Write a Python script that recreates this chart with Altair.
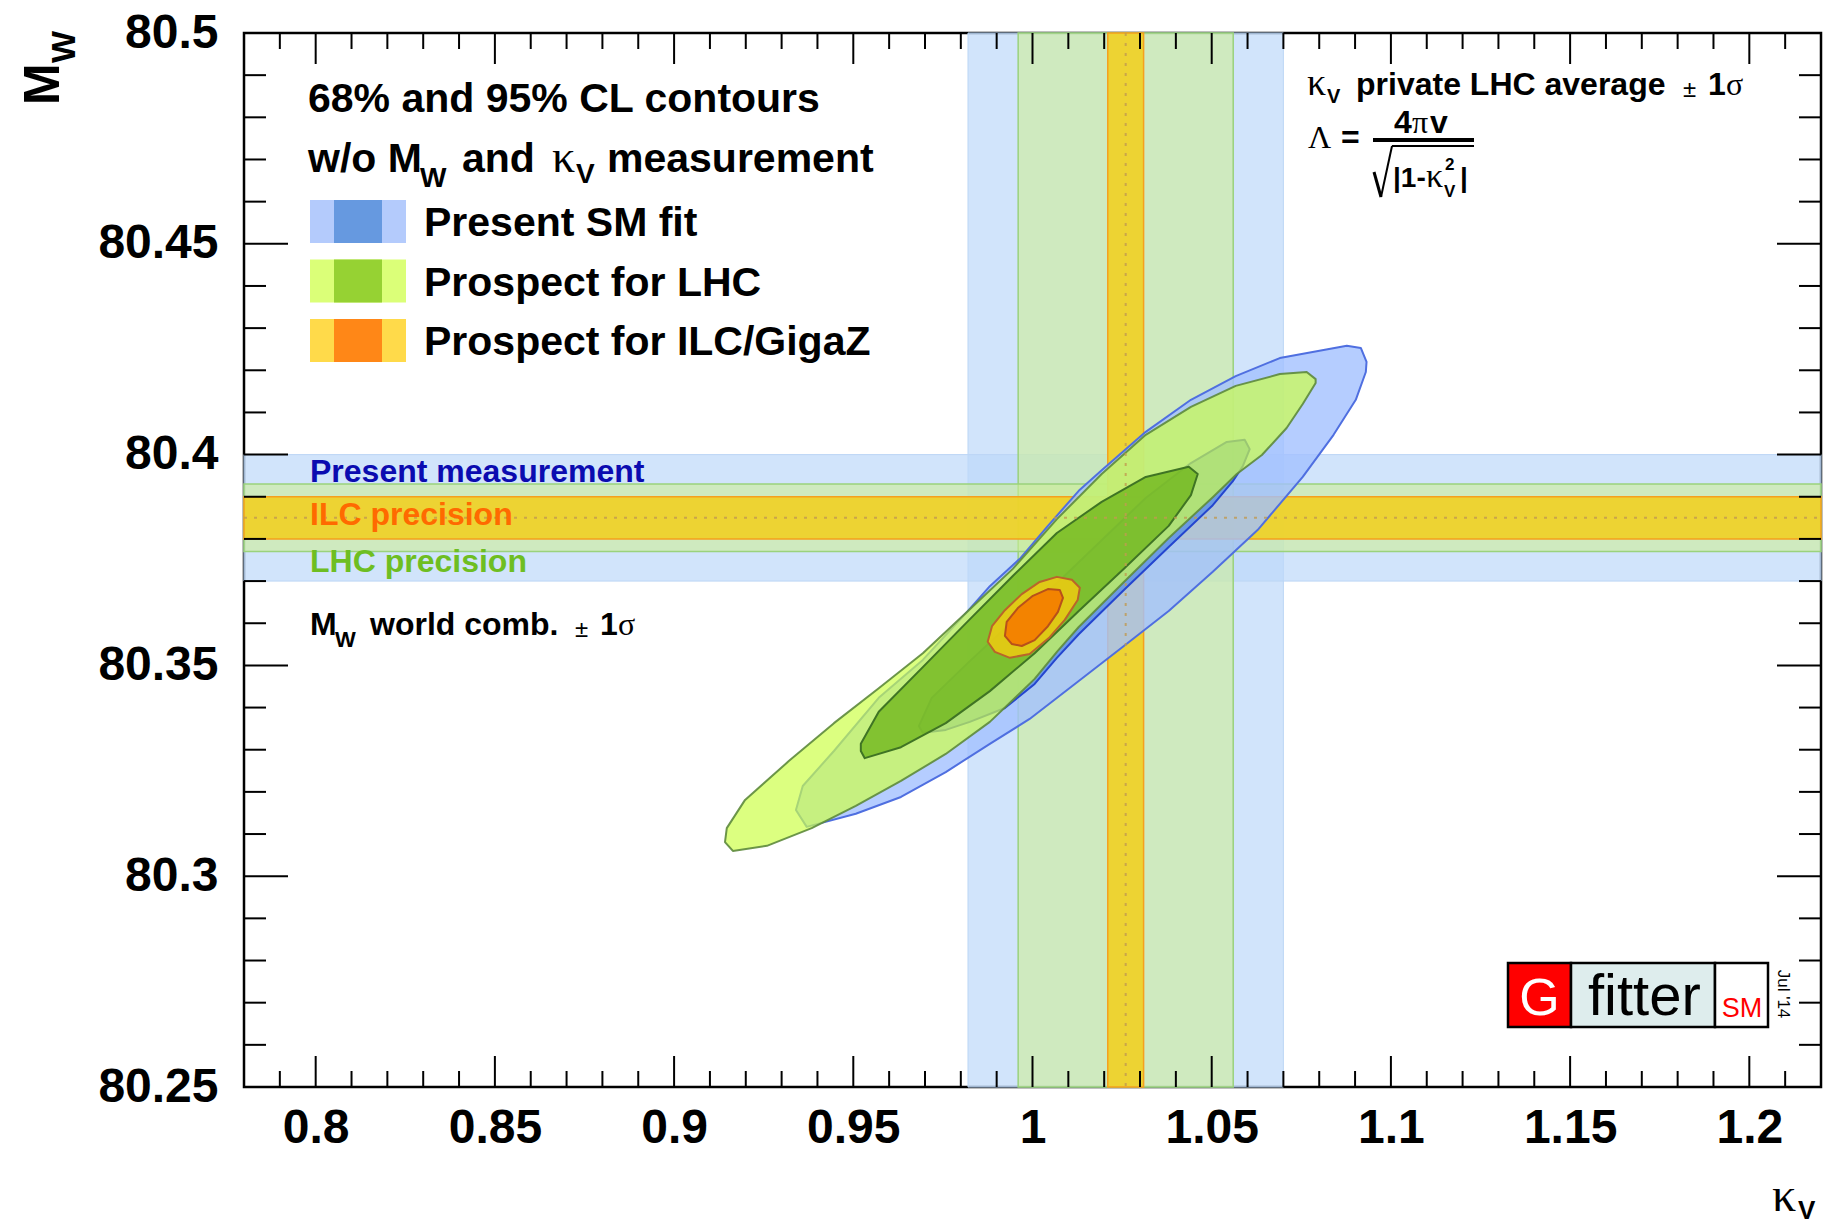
import altair as alt
import pandas as pd

# ---------------- axis ranges and tick labels ----------------
KAPPA_RANGE = [0.78, 1.22]
MW_RANGE = [80.25, 80.5]
KAPPA_TICK_LABELS = [0.8, 0.85, 0.9, 0.95, 1.0, 1.05, 1.1, 1.15, 1.2]
MW_TICK_LABELS = [80.25, 80.3, 80.35, 80.4, 80.45, 80.5]
MINOR_STEP = 0.01

# ---------------- measurements: central value and 1 sigma ----------------
SCENARIOS = ["present", "LHC", "ILC"]
KAPPA_CENTRAL = 1.026
KAPPA_ERRORS = [0.044, 0.030, 0.005]
MW_CENTRAL = 80.385
MW_ERRORS = [0.015, 0.008, 0.005]

# ---------------- 68% / 95% CL contours (kappa_V, M_W) ----------------
BLUE95_K = [1.0916, 1.0877, 1.0690, 1.0567, 1.0442, 1.0316, 1.0193, 1.0129, 1.0043,
            0.9967, 0.9881, 0.9820, 0.9694, 0.9571, 0.9446, 0.9359, 0.9340, 0.9370,
            0.9507, 0.9633, 0.9758, 0.9881, 0.9992, 1.0129, 1.0255, 1.0380, 1.0503,
            1.0628, 1.0754, 1.0840, 1.0902, 1.0930, 1.0932]
BLUE95_M = [80.4253, 80.4258, 80.4229, 80.4186, 80.4130, 80.4054, 80.3963, 80.3914, 80.3831,
            80.3755, 80.3688, 80.3629, 80.3513, 80.3423, 80.3297, 80.3214, 80.3157, 80.3117,
            80.3148, 80.3188, 80.3247, 80.3314, 80.3373, 80.3463, 80.3546, 80.3629, 80.3722,
            80.3821, 80.3947, 80.4047, 80.4130, 80.4196, 80.4220]

BLUE68_K = [0.9683, 0.9719, 0.9820, 0.9945, 1.0068, 1.0193, 1.0316, 1.0442, 1.0542, 1.0592,
            1.0606, 1.0587, 1.0559, 1.0503, 1.0380, 1.0255, 1.0129, 1.0068, 1.0006, 0.9923,
            0.9825, 0.9758, 0.9694]
BLUE68_M = [80.3356, 80.3423, 80.3506, 80.3605, 80.3695, 80.3797, 80.3897, 80.3980, 80.4030, 80.4035,
            80.4013, 80.3973, 80.3937, 80.3880, 80.3781, 80.3679, 80.3574, 80.3518, 80.3456, 80.3399,
            80.3366, 80.3347, 80.3340]

LHC95_K = [1.0765, 1.0690, 1.0567, 1.0442, 1.0316, 1.0193, 1.0068, 0.9945, 0.9820, 0.9694,
           0.9571, 0.9446, 0.9320, 0.9198, 0.9147, 0.9142, 0.9164, 0.9259, 0.9384, 0.9507,
           0.9633, 0.9758, 0.9881, 0.9956, 1.0006, 1.0068, 1.0129, 1.0255, 1.0380, 1.0503,
           1.0570, 1.0640, 1.0709, 1.0754, 1.0790, 1.0790]
LHC95_M = [80.4196, 80.4191, 80.4163, 80.4113, 80.4047, 80.3954, 80.3847, 80.3729, 80.3629, 80.3529,
           80.3446, 80.3363, 80.3273, 80.3181, 80.3114, 80.3081, 80.3060, 80.3072, 80.3114, 80.3167,
           80.3226, 80.3290, 80.3366, 80.3427, 80.3468, 80.3532, 80.3591, 80.3698, 80.3802, 80.3899,
           80.3954, 80.3999, 80.4063, 80.4120, 80.4170, 80.4179]

LHC68_K = [0.9521, 0.9532, 0.9633, 0.9758, 0.9881, 1.0006, 1.0129, 1.0255, 1.0380, 1.0442,
           1.0461, 1.0436, 1.0316, 1.0193, 1.0068, 0.9945, 0.9820, 0.9694, 0.9571, 0.9521]
LHC68_M = [80.3297, 80.3280, 80.3306, 80.3363, 80.3439, 80.3529, 80.3629, 80.3729, 80.3831, 80.3904,
           80.3954, 80.3971, 80.3947, 80.3888, 80.3814, 80.3712, 80.3605, 80.3496, 80.3390, 80.3314]

ILC95_K = [0.9875, 0.9895, 0.9937, 0.9992, 1.0048, 1.0090, 1.0126, 1.0132, 1.0110, 1.0068,
           1.0020, 0.9970, 0.9923, 0.9887]
ILC95_M = [80.3556, 80.3532, 80.3518, 80.3527, 80.3567, 80.3608, 80.3655, 80.3684, 80.3703, 80.3710,
           80.3698, 80.3669, 80.3631, 80.3593]

ILC68_K = [0.9923, 0.9942, 0.9970, 1.0006, 1.0043, 1.0071, 1.0085, 1.0076, 1.0043, 1.0001,
           0.9959, 0.9928]
ILC68_M = [80.3570, 80.3551, 80.3546, 80.3560, 80.3593, 80.3627, 80.3660, 80.3679, 80.3681, 80.3665,
           80.3636, 80.3603]

# ---------------- layout ----------------
W, H = 1577, 1054
SANS = "Liberation Sans"
SERIF = "Liberation Serif"

xs = alt.Scale(domain=KAPPA_RANGE, nice=False, zero=False)
ys = alt.Scale(domain=MW_RANGE, nice=False, zero=False)
x_axis = alt.Axis(values=KAPPA_TICK_LABELS, format="~g", title=None, ticks=False, tickSize=0,
                  domain=False, grid=False, labelPadding=17, labelFlush=False, labelOverlap=False,
                  labelFont=SANS, labelFontWeight="bold", labelFontSize=48, labelColor="black")
y_axis = alt.Axis(values=MW_TICK_LABELS, format="~g", title=None, ticks=False, tickSize=0,
                  domain=False, grid=False, labelPadding=26, labelFlush=False, labelOverlap=False,
                  labelFont=SANS, labelFontWeight="bold", labelFontSize=48, labelColor="black")

one = pd.DataFrame({"d": [0]})
layers = []

# ---------------- measurement bands ----------------
band_df = pd.DataFrame({
    "scenario": SCENARIOS,
    "k_lo": [KAPPA_CENTRAL - e for e in KAPPA_ERRORS],
    "k_hi": [KAPPA_CENTRAL + e for e in KAPPA_ERRORS],
    "m_lo": [MW_CENTRAL - e for e in MW_ERRORS],
    "m_hi": [MW_CENTRAL + e for e in MW_ERRORS],
})
band_style = {
    "present": dict(fill="#bdd9f9", fillOpacity=0.7, stroke="#bcd6f5", strokeWidth=1.0),
    "LHC": dict(fill="#cdef98", fillOpacity=0.6, stroke="#9bd27c", strokeWidth=1.5),
    "ILC": dict(fill="#f0d024", fillOpacity=0.9, stroke="#f5a01e", strokeWidth=1.5),
}
for sc in SCENARIOS:
    sub = band_df[band_df.scenario == sc]
    st = band_style[sc]
    layers.append(alt.Chart(sub).mark_rect(**st).encode(
        x=alt.X("k_lo:Q", scale=xs, axis=x_axis), x2="k_hi:Q",
        y=alt.value(0), y2=alt.value(H)))
    layers.append(alt.Chart(sub).mark_rect(**st).encode(
        y=alt.Y("m_lo:Q", scale=ys, axis=y_axis), y2="m_hi:Q",
        x=alt.value(0), x2=alt.value(W)))


# ---------------- contours ----------------
def contour(ks, ms, fill, fill_opacity, stroke, stroke_opacity=1.0, width=2.0):
    df = pd.DataFrame({"kappa": ks, "mw": ms, "i": list(range(len(ks)))})
    return alt.Chart(df).mark_line(
        interpolate="linear-closed", fill=fill, fillOpacity=fill_opacity,
        stroke=stroke, strokeOpacity=stroke_opacity, strokeWidth=width, strokeJoin="round"
    ).encode(
        x=alt.X("kappa:Q", scale=xs, axis=x_axis),
        y=alt.Y("mw:Q", scale=ys, axis=y_axis),
        order="i:Q")


layers += [
    contour(BLUE95_K, BLUE95_M, "#a3c0ff", 0.8, "#4f6fe0"),
    contour(BLUE68_K, BLUE68_M, "#6496e4", 0.9, "#2445cf"),
    contour(LHC95_K, LHC95_M, "#cdff4a", 0.7, "#5d8a3c", 0.9),
    contour(LHC68_K, LHC68_M, "#70b61d", 0.8, "#3f7424"),
    contour(ILC95_K, ILC95_M, "#ffcc0e", 0.75, "#b9652a"),
    contour(ILC68_K, ILC68_M, "#f48000", 0.97, "#b8501a"),
]

# ---------------- central values (dotted) ----------------
layers.append(alt.Chart(pd.DataFrame({"kappa": [KAPPA_CENTRAL]})).mark_rule(
    color="#c09a50", strokeWidth=2, strokeDash=[3, 7], opacity=0.8).encode(
    x=alt.X("kappa:Q", scale=xs, axis=x_axis), y=alt.value(0), y2=alt.value(H)))
layers.append(alt.Chart(pd.DataFrame({"mw": [MW_CENTRAL]})).mark_rule(
    color="#c09a50", strokeWidth=2, strokeDash=[3, 7], opacity=0.8).encode(
    y=alt.Y("mw:Q", scale=ys, axis=y_axis), x=alt.value(0), x2=alt.value(W)))

# ---------------- inward ticks on all four sides ----------------
k_minor = [round(KAPPA_RANGE[0] + MINOR_STEP * i, 2) for i in range(45)]
k_minor = [v for v in k_minor if v not in KAPPA_TICK_LABELS]
m_minor = [round(MW_RANGE[0] + MINOR_STEP * i, 2) for i in range(26)]
m_minor = [v for v in m_minor if v not in MW_TICK_LABELS]

for vals, length in [(KAPPA_TICK_LABELS, 31), (k_minor, 16)]:
    df = pd.DataFrame({"kappa": vals})
    layers.append(alt.Chart(df).mark_rule(color="black", strokeWidth=2).encode(
        x=alt.X("kappa:Q", scale=xs, axis=x_axis), y=alt.value(H), y2=alt.value(H - length)))
    layers.append(alt.Chart(df).mark_rule(color="black", strokeWidth=2).encode(
        x=alt.X("kappa:Q", scale=xs, axis=x_axis), y=alt.value(0), y2=alt.value(length)))
for vals, length in [(MW_TICK_LABELS, 44), (m_minor, 22)]:
    df = pd.DataFrame({"mw": vals})
    layers.append(alt.Chart(df).mark_rule(color="black", strokeWidth=2).encode(
        y=alt.Y("mw:Q", scale=ys, axis=y_axis), x=alt.value(0), x2=alt.value(length)))
    layers.append(alt.Chart(df).mark_rule(color="black", strokeWidth=2).encode(
        y=alt.Y("mw:Q", scale=ys, axis=y_axis), x=alt.value(W), x2=alt.value(W - length)))


# ---------------- text helpers ----------------
def txt(text, x, y, size, font=SANS, weight="bold", color="black", align="left",
        baseline="alphabetic", angle=0):
    return alt.Chart(one).mark_text(
        text=text, font=font, fontSize=size, fontWeight=weight, color=color,
        align=align, baseline=baseline, angle=angle
    ).encode(x=alt.value(x), y=alt.value(y))


def box(x1, y1, x2, y2, fill, stroke=None, sw=0):
    kw = dict(fill=fill)
    if stroke:
        kw.update(stroke=stroke, strokeWidth=sw)
    return alt.Chart(one).mark_rect(**kw).encode(
        x=alt.value(x1), x2=alt.value(x2), y=alt.value(y1), y2=alt.value(y2))


def seg(x1, y1, x2, y2, width):
    return alt.Chart(one).mark_rule(color="black", strokeWidth=width).encode(
        x=alt.value(x1), y=alt.value(y1), x2=alt.value(x2), y2=alt.value(y2))


# axis titles
layers += [
    txt("M", -185, 72, 50, angle=270),
    txt("W", -169, 30, 34, angle=270),
    txt("κ", 1528, 1178, 48, font=SERIF, weight="normal"),
    txt("V", 1554, 1186, 26),
]

# legend block
layers += [
    txt("68% and 95% CL contours", 64, 79, 41),
    txt("w/o M", 64, 139, 41),
    txt("W", 176, 154, 28),
    txt("and", 218, 139, 41),
    txt("κ", 308, 139, 46, font=SERIF, weight="normal"),
    txt("V", 332, 150, 28),
    txt("measurement", 363, 139, 41),
]
LEGEND_ROWS = [
    ("Present SM fit", "#b4cbfc", "#6699e0"),
    ("Prospect for LHC", "#dbff78", "#96d233"),
    ("Prospect for ILC/GigaZ", "#ffda4a", "#ff8717"),
]
for n, (name, light, dark) in enumerate(LEGEND_ROWS):
    top = 167 + n * 59.5
    layers += [
        box(66, top, 162, top + 43, light),
        box(90, top, 138, top + 43, dark),
        txt(name, 180, top + 36, 41),
    ]

# kappa_V annotation with the scale formula
layers += [
    txt("κ", 1063, 62, 38, font=SERIF, weight="normal"),
    txt("V", 1083, 70, 20),
    txt("private LHC average", 1112, 62, 32),
    txt("±", 1439, 64, 24, weight="normal"),
    txt("1", 1464, 62, 32),
    txt("σ", 1482, 62, 32, font=SERIF, weight="normal"),
    txt("Λ", 1064, 115, 32, font=SERIF, weight="normal"),
    txt("=", 1097, 115, 32),
    txt("4", 1150, 100, 32),
    txt("π", 1168, 100, 32, font=SERIF, weight="normal"),
    txt("v", 1186, 100, 32),
    seg(1129, 107, 1230, 107, 4),
    seg(1130, 139, 1137, 164, 3),
    seg(1137, 164, 1148, 113, 2),
    seg(1148, 113, 1230, 113, 2),
    txt("|1-", 1149, 154, 28),
    txt("κ", 1182, 154, 34, font=SERIF, weight="normal"),
    txt("2", 1201, 137, 17),
    txt("V", 1200, 164, 17),
    txt("|", 1216, 154, 28),
]

# M_W band labels
layers += [
    txt("Present measurement", 66, 449, 32, color="#0b0bb0"),
    txt("ILC precision", 66, 492, 32, color="#ff6a00"),
    txt("LHC precision", 66, 539, 32, color="#6ebe22"),
    txt("M", 66, 602, 32),
    txt("W", 91, 614, 22),
    txt("world comb.", 126, 602, 32),
    txt("±", 331, 604, 24, weight="normal"),
    txt("1", 356, 602, 32),
    txt("σ", 374, 602, 32, font=SERIF, weight="normal"),
]

# Gfitter logo
layers += [
    box(1264, 930, 1327, 994, "#ff0000", "black", 2.5),
    box(1327, 930, 1471, 994, "#deeded", "black", 2.5),
    box(1471, 930, 1524, 994, "white", "black", 2.5),
    txt("G", 1295.5, 982, 52, weight="normal", color="white", align="center"),
    txt("fitter", 1344, 982, 58, weight="normal"),
    txt("SM", 1498, 984, 27, weight="normal", color="#ff0000", align="center"),
    txt("Jul '14", 1539, 961, 17, weight="normal", align="center", baseline="middle", angle=90),
]

chart = alt.layer(*layers).properties(
    width=W, height=H,
    autosize=alt.AutoSizeParams(type="none"),
    padding={"left": 244, "top": 33, "right": 2, "bottom": 139},
    background="white",
).configure_view(stroke="black", strokeWidth=2.5)

chart.save("out.html", embed_options={"renderer": "svg", "actions": False})
